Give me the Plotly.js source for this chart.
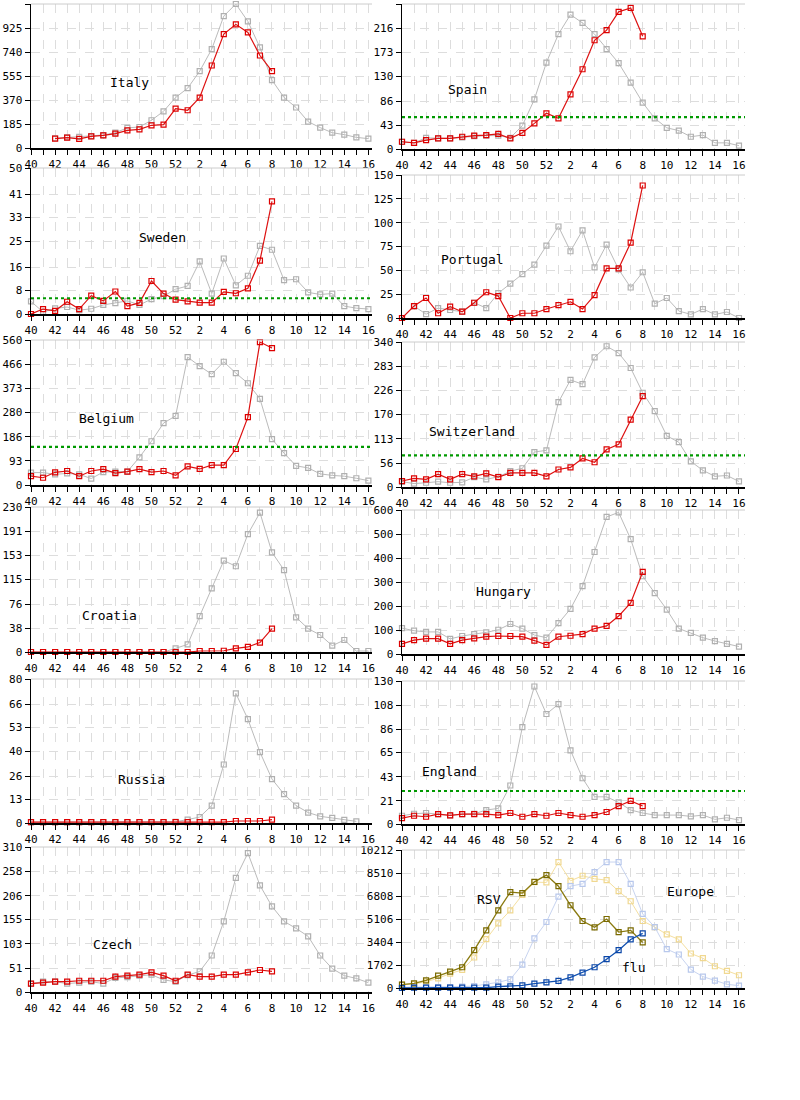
<!DOCTYPE html>
<html><head><meta charset="utf-8">
<script src="https://cdn.plot.ly/plotly-3.0.1.min.js"></script>
<style>body{margin:0;background:#fff}#c{width:800px;height:1100px}</style>
</head><body><div id="c"></div>
<script>
const weeks = [40,41,42,43,44,45,46,47,48,49,50,51,52,1,2,3,4,5,6,7,8,9,10,11,12,13,14,15,16];
const xTickText = ['40','','42','','44','','46','','48','','50','','52','','2','','4','','6','','8','','10','','12','','14','','16'];

const italyCur = [null,null,72,80,70,90,98,111,136,144,175,180,304,291,389,636,878,953,891,713,592];
const italyPrev = [null,null,75,82,85,92,100,118,155,162,214,283,389,461,592,762,1017,1110,976,775,523,389,312,203,157,118,103,82,72];
const spainCur = [13,11,16,19,19,22,24,25,27,19,29,46,64,55,98,143,195,213,246,253,202];
const spainPrev = [13,11,20,19,19,21,23,24,24,20,42,89,155,206,241,226,206,179,154,119,83,55,38,33,22,25,11,11,6];
const swedenCur = [0,1.7,1.1,4.2,1.7,6.3,4.5,7.7,2.7,3.8,11.3,7,4.9,4.3,3.9,3.9,7.6,7.1,8.8,18.3,38.6];
const swedenPrev = [4.3,0.7,1.9,2.4,1.3,1.8,3.1,3.7,4.5,3.1,5.1,6.1,8.5,9.6,18,7,19,9.8,13.1,23.3,22,11.6,11.9,7.4,6.7,7,2.7,2,1.7];
const portugalCur = [0,12.5,21,5,12,6.6,16,27,23,0,5,5,9.4,13.6,17,9.4,24,52,52,79,139];
const portugalPrev = [0,12.5,4,10.4,8.4,6.6,16,10.4,26,36,46,56,76,96,70,92,53,77,51,32,48,15,21,7.3,3.8,9.4,3.8,6.3,0];
const belgiumCur = [34,28,49,54,34,54,61,46,52,61,50,54,37,72,62,77,77,139,262,552,529];
const belgiumPrev = [48,48,41,45,41,25,50,52,52,107,169,239,267,494,459,428,476,432,393,333,177,123,74,66,43,37,34,26,17];
const swissCur = [14,20,18,30,18,30,25,32,23,33,33,33,25,41,46,67,58,88,100,158,213];
const swissPrev = [12.5,8,10,12.5,10,11,23,18,24,37,44,82,86,199,251,241,304,330,314,279,221,178,120,105,60,39,25,27,13];
const croatiaCur = [0,0,0,0,0,0,0,0,0,0,0,0,0,0,1.6,1.6,2,5.8,8,15,37];
const croatiaPrev = [0,0,0,0,0,0,0,0,0,0,0,0,5.8,12,57,101,145,136,187,221,158,130,55,37,27,10,19,1.6,1.6];
const hungaryCur = [42,58,64,64,42,58,65,72,75,75,72,56,38,72,76,83,106,117,158,213,342];
const hungaryPrev = [108,97,92,92,63,75,83,90,101,125,106,79,68,129,188,283,425,571,590,479,324,254,185,106,88,68,54,42,31];
const russiaCur = [0.5,0.5,0.5,0.5,0.5,0.5,0.5,0.5,0.5,0.5,0.5,0.5,0.5,0.5,0.5,0.5,0.5,1.1,1.1,1.1,1.9];
const russiaPrev = [0.5,0.5,0.5,0.5,0.5,0.5,0.5,0.5,0.5,0.5,0.5,0.5,0.7,1.9,3.3,9.7,32.5,72,57.7,39.4,24.4,16,9.7,5.8,3.7,2.8,1.7,0.9,null];
const englandCur = [5.4,7.5,6.6,9,7.8,9,9,9,8.1,10,6.6,9,7.5,10,8.1,6.6,8.1,10.9,16.3,21,16.3];
const englandPrev = [7.5,9.3,10,9,7.8,9,9.3,12.7,14.2,35,88,125,100,109,67,41.6,24.7,24.7,19.6,12.7,10,8.1,8.1,8.1,6.9,8.1,4.2,5.7,3.6];
const czechCur = [18,20,22,22,24,24,24,33,35,37,42,35,24,37,33,33,37,37,42,47,44];
const czechPrev = [18,22,22,18,20,22,18,30,32,35,37,26,22,36,44,78,151,244,297,228,183,151,136,119,78,50,35,29,20];
const rsvCur = [248,347,570,917,1215,1537,2801,4264,5751,7090,7016,7858,8354,7536,6123,4958,4487,5107,4140,4264,3371];
const rsvPrev = [248,297,471,719,1066,1339,2256,3619,4784,5751,6892,7834,7809,9321,7933,8305,8082,7982,7164,6421,4958,4512,3966,3595,2553,2206,1611,1264,942];
const fluCur = [0,25,25,25,25,25,25,25,99,124,198,322,421,521,793,1140,1537,2132,2801,3595,4041];
const fluPrev = [50,50,50,50,74,99,149,273,421,644,1735,3669,4884,6768,7536,7710,8577,9321,9321,7710,5479,4512,2876,2479,1363,843,545,273,174];

const yTicks = {
  Italy:[0,185,370,555,740,925,1110], Spain:[0,43,86,130,173,216,260],
  Sweden:[0,8,16,25,33,41,50], Portugal:[0,25,50,75,100,125,150],
  Belgium:[0,93,186,280,373,466,560], Switzerland:[0,56,113,170,226,283,340],
  Croatia:[0,38,76,115,153,191,230], Hungary:[0,100,200,300,400,500,600],
  Russia:[0,13,26,40,53,66,80], England:[0,21,43,65,86,108,130],
  Czech:[0,51,103,155,206,258,310], Europe:[0,1702,3404,5106,6808,8510,10212]
};
const thresholds = {Spain:57, Sweden:5.4, Belgium:147, Switzerland:74, England:30};

const panels = [
  ['Italy',0,4,148,129,82,italyCur,italyPrev],
  ['Spain',1,4,149,467,89,spainCur,spainPrev],
  ['Sweden',0,168,314,162,238,swedenCur,swedenPrev],
  ['Portugal',1,175,318,472,260,portugalCur,portugalPrev],
  ['Belgium',0,340,485,106,418,belgiumCur,belgiumPrev],
  ['Switzerland',1,342,487,472,431,swissCur,swissPrev],
  ['Croatia',0,507,652,109,615,croatiaCur,croatiaPrev],
  ['Hungary',1,510,654,503,591,hungaryCur,hungaryPrev],
  ['Russia',0,679,823,141,779,russiaCur,russiaPrev],
  ['England',1,681,824,449,771,englandCur,englandPrev],
  ['Czech',0,847,992,112,944,czechCur,czechPrev],
  ['Europe',1,850,988,690,891,null,null]
];
const X = weeks.map((w,i)=>i);
const F = 'DejaVu Sans Mono, monospace';
const traces = [], layout = {width:800,height:1100,margin:{l:0,r:0,t:0,b:0},showlegend:false,
  paper_bgcolor:'#fff',plot_bgcolor:'#fff',font:{family:F,size:11,color:'#000'},annotations:[],shapes:[]};

function line(data,color,n,mcolor,w){
  traces.push({x:X.slice(0,data.length),y:data,xaxis:'x'+n,yaxis:'y'+n,mode:'lines+markers',
    line:{color:color,width:w||1},marker:{symbol:'square-open',size:5,color:mcolor||color,line:{width:1.2}},
    connectgaps:false,cliponaxis:false,hoverinfo:'skip'});
}
function ann(x,y,t){
  layout.annotations.push({xref:'paper',yref:'paper',x:x/800,y:1-y/1100,xanchor:'center',yanchor:'middle',
    text:t,showarrow:false,font:{family:F,size:13}});
}
panels.forEach((p,k)=>{
  const [name,col,top,bot,lx,ly,cur,prev] = p;
  const n = k+1;
  const xd = col===0 ? [31/800,372/800] : [402/800,745/800];
  const xr = col===0 ? [0,28.3] : [0,28.5];
  const yt = yTicks[name];
  layout['xaxis'+n] = {domain:xd,range:xr,anchor:'y'+n,tickvals:X,ticktext:xTickText,ticks:'outside',ticklen:5,
    tickcolor:'#000',showline:true,linecolor:'#000',linewidth:1.5,showgrid:true,gridcolor:'#ddd',griddash:'dash',
    zeroline:false,tickfont:{family:F,size:11},fixedrange:true};
  layout['yaxis'+n] = {domain:[1-bot/1100,1-top/1100],range:[0,yt[6]],anchor:'x'+n,tickvals:yt,ticktext:yt.map(String),
    ticks:'outside',ticklen:5,tickcolor:'#000',showline:true,linecolor:'#000',linewidth:1.5,showgrid:true,gridcolor:'#ddd',
    griddash:'dash',zeroline:false,tickfont:{family:F,size:11},fixedrange:true};
  layout.shapes.push({type:'line',xref:'x'+n+' domain',yref:'y'+n+' domain',x0:0,x1:1,y0:1,y1:1,line:{color:'#ccc',width:1}});
  if(name==='Europe'){
    line(rsvPrev,'#f5e0a0',n,'#f0d890');
    line(fluPrev,'#c8d4f0',n,'#b8c8ec');
    line(rsvCur,'#8a7a10',n,'#7a6a00',1.3);
    line(fluCur,'#1050b0',n,'#0a46a8',1.3);
    ann(489,899,'RSV'); ann(633,967,'flu');
  } else {
    line(prev,'#bbbbbb',n,'#b0b0b0');
    line(cur,'#dd1111',n,'#dd0000',1.2);
  }
  if(thresholds[name]!==undefined){
    layout.shapes.push({type:'line',xref:'x'+n+' domain',yref:'y'+n,x0:0,x1:1,y0:thresholds[name],y1:thresholds[name],
      line:{color:'#009900',width:2.2,dash:'dot'}});
  }
  ann(lx,ly,name);
});
Plotly.newPlot('c',traces,layout,{staticPlot:true});
</script></body></html>
